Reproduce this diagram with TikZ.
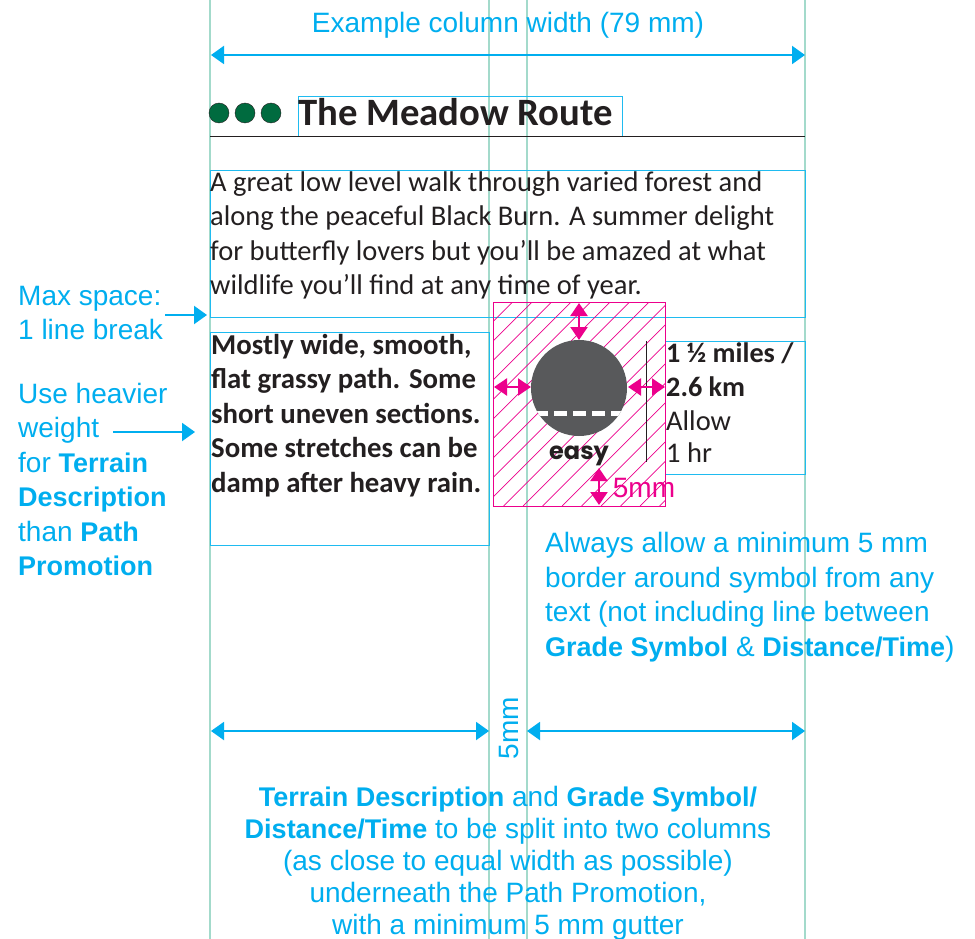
\documentclass[tikz,border=0pt]{standalone}
\usepackage{fontspec}
\setmainfont{Carlito}
\newfontfamily\notefont{Liberation Sans}
\newfontfamily\symbolfont{Poppins}
\usetikzlibrary{calc,positioning,arrows.meta}
\definecolor{guidegreen}{HTML}{A3DACB}
\definecolor{noteblue}{HTML}{00AEEF}
\definecolor{boxblue}{HTML}{1FBBF0}
\definecolor{markpink}{HTML}{EC008C}
\definecolor{inkdark}{HTML}{231F20}
\definecolor{dotgreen}{HTML}{006B3F}
\definecolor{symbolgrey}{HTML}{58595B}
\newcommand{\notebold}[1]{{\bfseries\fontsize{27}{30}\selectfont #1}}
\tikzset{
  guide/.style={guidegreen,line width=1.5pt},
  box/.style={boxblue,line width=0.8pt},
  notearrow/.style={noteblue,line width=2pt,{Triangle[length=13pt,width=18pt]}-{Triangle[length=13pt,width=18pt]}},
  noterun/.style={noteblue,line width=2pt,-{Triangle[length=13pt,width=18pt]}},
  pinkarrow/.style={markpink,line width=2.2pt,{Triangle[length=13pt,width=17pt]}-{Triangle[length=13pt,width=17pt]}},
  note/.style={inner sep=0pt,text=noteblue,align=left,font=\notefont\fontsize{28}{34.5}\selectfont},
  body/.style={inner sep=0pt,text=inkdark,align=left,font=\fontsize{28.5}{34.5}\selectfont},
  strong/.style={inner sep=0pt,text=inkdark,align=left,font=\bfseries\fontsize{28.8}{34.5}\selectfont}
}
\begin{document}
\begin{tikzpicture}[x=1pt,y=-1pt]

\useasboundingbox (0,0) rectangle (975,939);
\fill[white] (0,0) rectangle (975,939);

% column guides
\foreach \gx in {210,489,527,805}
  \draw[guide] (\gx,0) -- (\gx,939);

% text frames
\draw[box] (298,96) rectangle (622,136);
\draw[box] (210,170) rectangle (805,317);
\draw[box] (210,332) rectangle (489,545);
\draw[box] (665,341) rectangle (805,474);
\draw[inkdark,line width=1pt] (210,137) -- (805,137);

% route dots and title
\foreach \dx in {219,245,271}
  \draw[inkdark,fill=dotgreen,line width=0.4pt] (\dx,113) circle (10);
\node[inner sep=0pt,anchor=west,text=inkdark,font=\bfseries\fontsize{38.7}{40}\selectfont] (title) at (298,112) {The Meadow Route};

% text blocks
\node[body,anchor=north west] (intro) at (210,171.5) {A great low level walk through varied forest and\\along the peaceful Black Burn. A summer delight\\for butterfly lovers but you'll be amazed at what\\wildlife you'll find at any time of year.};
\node[strong,anchor=north west] (terrain) at (211,334) {Mostly wide, smooth,\\flat grassy path. Some\\short uneven sections.\\Some stretches can be\\damp after heavy rain.};
\node[strong,anchor=north west,font=\bfseries\fontsize{28.2}{33.5}\selectfont] (distance) at (666,343) {1 ½ miles /\\2.6 km};
\node[body,anchor=north west,font=\fontsize{28.5}{32}\selectfont] (time) at (666,411) {Allow\\1 hr};

% symbol clearance
\begin{scope}
  \clip (493,302) rectangle (665,506);
  \foreach \hx in {0,19.5,...,400}
    \draw[markpink,line width=0.7pt] (493+\hx-204,506) -- (493+\hx,302);
\end{scope}
\draw[markpink,line width=1pt] (493,302) rectangle (665,506);
\fill[symbolgrey] (579,388) circle (48);
\begin{scope}
  \clip (579,388) circle (48);
  \draw[white,line width=5pt,dash pattern=on 12.5pt off 6.5pt] (535,413) -- (626,413);
\end{scope}
\draw[inkdark,line width=0.8pt] (646,341) -- (646,462);
\node[inner sep=0pt,text=inkdark,font=\symbolfont\bfseries\fontsize{24}{28}\selectfont] (easy) at (579,456) {easy};

\coordinate (topA) at (579,303);
\coordinate (topB) at (579,340);
\coordinate (leftA) at (494,387);
\coordinate (leftB) at (531,387);
\coordinate (rightA) at (628,387);
\coordinate (rightB) at (665,387);
\coordinate (lowA) at (599,468);
\coordinate (lowB) at (599,505);
\draw[pinkarrow] (topA) -- (topB);
\draw[pinkarrow] (leftA) -- (leftB);
\draw[pinkarrow] (rightA) -- (rightB);
\draw[pinkarrow] (lowA) -- (lowB);
\node[inner sep=0pt,text=markpink,font=\notefont\fontsize{28}{30}\selectfont] (five) at (644,488) {5mm};

% notes
\node[note,anchor=center] (colnote) at (508,25) {Example column width (79 mm)};
\coordinate (colA) at (211,55);
\coordinate (colB) at (805,55);
\draw[notearrow] (colA) -- (colB);

\node[note,anchor=north west] (maxnote) at (18,286) {Max space:\\1 line break};
\coordinate (maxA) at (165,315);
\coordinate (maxB) at (207,315);
\draw[noterun] (maxA) -- (maxB);

\node[note,anchor=north west] (weightnote) at (18,383) {Use heavier\\weight\\for \notebold{Terrain}\\\notebold{Description}\\than \notebold{Path}\\\notebold{Promotion}};
\coordinate (weightA) at (113,432);
\coordinate (weightB) at (195,432);
\draw[noterun] (weightA) -- (weightB);

\node[note,anchor=north west] (bordernote) at (545,532.5) {Always allow a minimum 5 mm\\border around symbol from any\\text (not including line between\\\notebold{Grade Symbol} \& \notebold{Distance/Time})};

\coordinate (leftcolA) at (211,731);
\coordinate (leftcolB) at (489,731);
\coordinate (rightcolA) at (527,731);
\coordinate (rightcolB) at (805,731);
\draw[notearrow] (leftcolA) -- (leftcolB);
\draw[notearrow] (rightcolA) -- (rightcolB);
\node[note,rotate=90,anchor=center] (gutter) at (509,728) {5mm};

\node[note,align=center,anchor=north,font=\notefont\fontsize{28}{32}\selectfont] (splitnote) at (508,786) {\notebold{Terrain Description} and \notebold{Grade Symbol/}\\\notebold{Distance/Time} to be split into two columns\\(as close to equal width as possible)\\underneath the Path Promotion,\\with a minimum 5 mm gutter};
\end{tikzpicture}
\end{document}
